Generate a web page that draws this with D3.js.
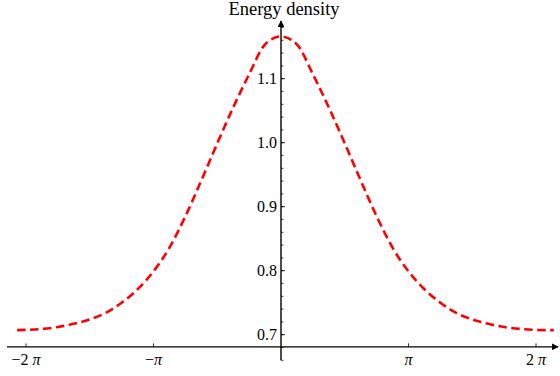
<!DOCTYPE html>
<html><head><meta charset="utf-8">
<script src="https://cdn.jsdelivr.net/npm/d3@7"></script>
<style>
html,body{margin:0;padding:0;background:#fff;}
svg{display:block;font-family:"Liberation Serif","Times New Roman",serif;}
</style></head>
<body><svg id="c" width="560" height="376"></svg>
<script>
// x positions in multiples of pi
const xPi = [-2.07,-2,-1.875,-1.75,-1.625,-1.5,-1.375,-1.25,-1.125,-1,-0.875,-0.75,-0.625,-0.5,-0.375,-0.25,-0.125,0,
             0.125,0.25,0.375,0.5,0.625,0.75,0.875,1,1.125,1.25,1.375,1.5,1.625,1.75,1.875,2,2.14];
const energy = [0.7072,0.7075,0.709,0.712,0.717,0.724,0.734,0.750,0.771,0.799,0.836,0.885,0.941,0.999,1.055,1.107,1.1535,1.166,
                1.1535,1.107,1.055,0.999,0.941,0.885,0.836,0.799,0.771,0.750,0.734,0.724,0.717,0.712,0.709,0.7075,0.7071];
const xTickVals = [-2,-1,1,2];
const xTickLabels = ["\u22122 \u03c0","\u2212\u03c0","\u03c0","2 \u03c0"];
const yTickVals = [0.7,0.8,0.9,1.0,1.1];
const yMinorVals = d3.range(33,60).map(i=>i*0.02).filter(v=>v<1.185);
const title = "Energy density";

const svg = d3.select("#c");
const x = d3.scaleLinear().domain([-2,2]).range([26,536]);
const y = d3.scaleLinear().domain([0.7,1.1]).range([334.7,78.7]);
const xAxisY = y(0.681);
const yAxisX = x(0);

svg.append("defs").append("marker").attr("id","arr").attr("viewBox","0 0 10 10")
  .attr("refX",9).attr("refY",5).attr("markerWidth",7).attr("markerHeight",7)
  .attr("markerUnits","userSpaceOnUse").attr("orient","auto")
  .append("path").attr("d","M0,0L10,5L0,10Z").attr("fill","#000");

svg.append("line").attr("x1",7).attr("x2",558).attr("y1",xAxisY).attr("y2",xAxisY)
  .attr("stroke","#000").attr("stroke-width",1.4).attr("marker-end","url(#arr)");
svg.append("line").attr("x1",yAxisX).attr("x2",yAxisX).attr("y1",y(0.66)).attr("y2",21)
  .attr("stroke","#000").attr("stroke-width",1.4).attr("marker-end","url(#arr)");

// x ticks
const gx = svg.append("g");
xTickVals.forEach((v,i)=>{
  gx.append("line").attr("x1",x(v)).attr("x2",x(v)).attr("y1",xAxisY).attr("y2",xAxisY-3.5)
    .attr("stroke","#000").attr("stroke-width",0.8);
  const t = gx.append("text").attr("x",x(v)).attr("y",xAxisY+18).attr("text-anchor","middle")
    .attr("font-size",16).attr("fill","#000");
  const lab = xTickLabels[i];
  const pre = lab.slice(0,-1);
  if (pre) t.append("tspan").text(pre);
  t.append("tspan").attr("font-style","italic").text("\u03c0");
});

// y ticks
yMinorVals.forEach(v=>{
  svg.append("line").attr("x1",yAxisX).attr("x2",yAxisX+2.5).attr("y1",y(v)).attr("y2",y(v))
    .attr("stroke","#000").attr("stroke-width",0.7);
});
yTickVals.forEach(v=>{
  svg.append("line").attr("x1",yAxisX).attr("x2",yAxisX+4).attr("y1",y(v)).attr("y2",y(v))
    .attr("stroke","#000").attr("stroke-width",0.8);
  svg.append("text").attr("x",yAxisX-4).attr("y",y(v)).attr("dy","0.35em").attr("text-anchor","end")
    .attr("font-size",16).attr("fill","#000").text(d3.format(".1f")(v));
});

// title
svg.append("text").attr("x",yAxisX+3).attr("y",15).attr("text-anchor","middle")
  .attr("font-size",18.5).attr("fill","#000").text(title);

// curve
const data = xPi.map((d,i)=>({x:d,e:energy[i]}));
svg.append("path").datum(data)
  .attr("d",d3.line().x(d=>x(d.x)).y(d=>y(d.e)).curve(d3.curveMonotoneX))
  .attr("fill","none").attr("stroke","#ff0000").attr("stroke-width",2.6)
  .attr("stroke-dasharray","8.5,4.5");
</script></body></html>
